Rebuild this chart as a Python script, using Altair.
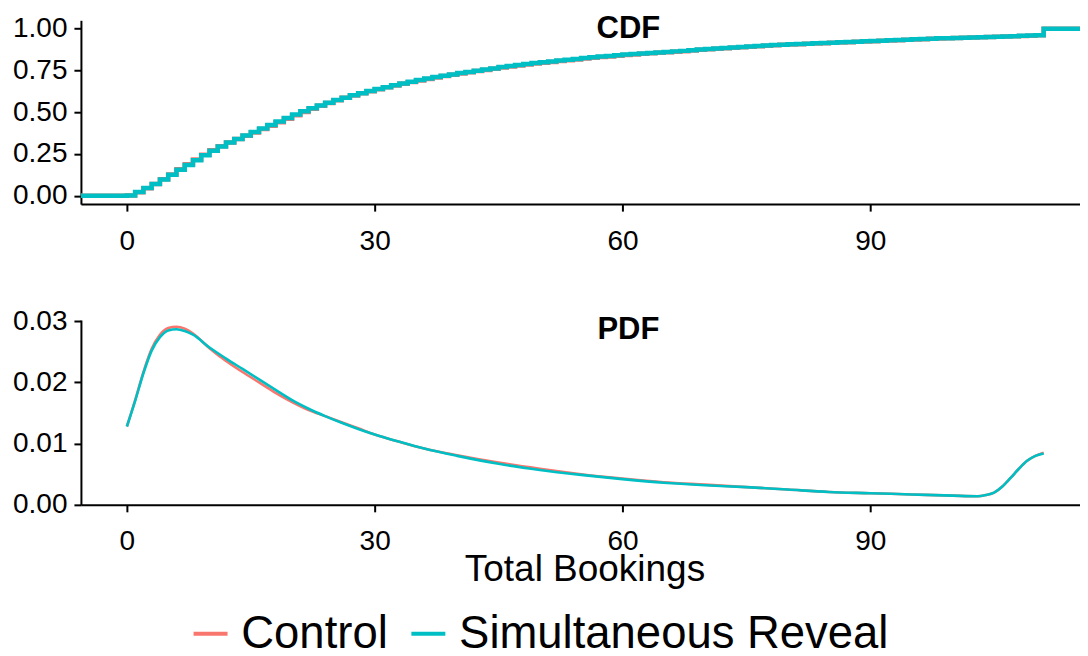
import altair as alt
import pandas as pd

SERIES = ["Control", "Simultaneous Reveal"]
COLORS = ["#F8766D", "#00BFC4"]

# ECDF (step function) of total bookings, one value per integer
BOOKINGS = list(range(0, 112))
CDF_CONTROL = [
    0.002, 0.021, 0.045, 0.071, 0.099, 0.128, 0.158, 0.188, 0.217, 0.245,
    0.272, 0.296, 0.318, 0.339, 0.359, 0.379, 0.399, 0.419, 0.440, 0.461,
    0.482, 0.501, 0.520, 0.538, 0.555, 0.571, 0.586, 0.600, 0.613, 0.626,
    0.638, 0.649, 0.660, 0.670, 0.680, 0.690, 0.699, 0.708, 0.716, 0.724,
    0.732, 0.739, 0.746, 0.753, 0.760, 0.767, 0.773, 0.779, 0.785, 0.791,
    0.796, 0.801, 0.806, 0.811, 0.816, 0.821, 0.826, 0.830, 0.834, 0.838,
    0.842, 0.846, 0.850, 0.853, 0.856, 0.859, 0.862, 0.865, 0.869, 0.873,
    0.876, 0.879, 0.882, 0.885, 0.888, 0.891, 0.894, 0.897, 0.900, 0.903,
    0.905, 0.907, 0.909, 0.911, 0.913, 0.915, 0.917, 0.919, 0.921, 0.923,
    0.925, 0.927, 0.929, 0.931, 0.933, 0.935, 0.937, 0.939, 0.941, 0.942,
    0.944, 0.945, 0.947, 0.948, 0.950, 0.951, 0.953, 0.955, 0.956, 0.958,
    0.960, 1.000,
]
CDF_SIMUL = [
    0.002, 0.022, 0.046, 0.071, 0.098, 0.126, 0.155, 0.184, 0.213, 0.242,
    0.270, 0.295, 0.318, 0.340, 0.361, 0.382, 0.403, 0.424, 0.445, 0.466,
    0.487, 0.505, 0.523, 0.540, 0.557, 0.573, 0.587, 0.601, 0.614, 0.627,
    0.639, 0.650, 0.661, 0.672, 0.682, 0.692, 0.701, 0.710, 0.718, 0.726,
    0.734, 0.741, 0.748, 0.755, 0.762, 0.770, 0.776, 0.782, 0.788, 0.794,
    0.799, 0.804, 0.809, 0.814, 0.819, 0.824, 0.829, 0.833, 0.837, 0.841,
    0.845, 0.849, 0.852, 0.855, 0.858, 0.861, 0.864, 0.867, 0.871, 0.875,
    0.878, 0.881, 0.884, 0.887, 0.890, 0.893, 0.896, 0.899, 0.902, 0.904,
    0.906, 0.908, 0.910, 0.912, 0.914, 0.916, 0.918, 0.920, 0.922, 0.924,
    0.926, 0.928, 0.930, 0.932, 0.934, 0.936, 0.938, 0.940, 0.942, 0.943,
    0.944, 0.946, 0.947, 0.949, 0.950, 0.952, 0.953, 0.955, 0.957, 0.959,
    0.961, 1.000,
]
# stand-ins for ggplot's -Inf / +Inf padding of the ECDF
ECDF_LOW_X, ECDF_LOW_F = -20, 0.0
ECDF_HIGH_X, ECDF_HIGH_F = 140, 1.0

# kernel density estimate (PDF)
PDF_X = [0, 1, 2, 3, 4, 5, 6, 7, 8,
         10, 12, 14, 16, 18, 20, 22, 24, 26, 28, 30,
         33, 36, 40, 45, 50, 55, 60, 65, 70, 75, 80, 85, 90, 95, 100,
         103, 104, 105, 106, 107, 108, 109, 110, 111]
PDF_CONTROL = [0.0128, 0.0171, 0.0217, 0.0255, 0.0278, 0.0289, 0.0291, 0.0288, 0.0280,
               0.0256, 0.0235, 0.0217, 0.0200, 0.0183, 0.0168, 0.0155, 0.0145, 0.0135, 0.0125, 0.0115,
               0.0103, 0.0092, 0.0081, 0.0069, 0.0059, 0.0050, 0.0043, 0.0037, 0.0033, 0.0029, 0.0025,
               0.0021, 0.0019, 0.0017, 0.0015,
               0.0014, 0.0016, 0.0020, 0.0030, 0.0044, 0.0059, 0.0072, 0.0080, 0.0085]
PDF_SIMUL = [0.0128, 0.0170, 0.0215, 0.0252, 0.0274, 0.0285, 0.0287, 0.0284, 0.0278,
             0.0257, 0.0239, 0.0222, 0.0205, 0.0188, 0.0171, 0.0157, 0.0145, 0.0134, 0.0124, 0.0115,
             0.0103, 0.0092, 0.0080, 0.0067, 0.0057, 0.0049, 0.0042, 0.0036, 0.0032, 0.0029, 0.0025,
             0.0021, 0.0019, 0.0017, 0.0015,
             0.0014, 0.0016, 0.0020, 0.0030, 0.0044, 0.0059, 0.0072, 0.0080, 0.0084]

X_TICKS = [0, 30, 60, 90]
CDF_TICKS = [0, 0.25, 0.5, 0.75, 1.0]
PDF_TICKS = [0, 0.01, 0.02, 0.03]

rows = []
for name, vals in ((SERIES[0], CDF_CONTROL), (SERIES[1], CDF_SIMUL)):
    rows.append({"series": name, "x": ECDF_LOW_X, "F": ECDF_LOW_F})
    for b, v in zip(BOOKINGS, vals):
        rows.append({"series": name, "x": b, "F": v})
    rows.append({"series": name, "x": ECDF_HIGH_X, "F": ECDF_HIGH_F})
cdf_df = pd.DataFrame(rows)

prow = []
for name, vals in ((SERIES[0], PDF_CONTROL), (SERIES[1], PDF_SIMUL)):
    for b, v in zip(PDF_X, vals):
        prow.append({"series": name, "x": b, "d": v})
pdf_df = pd.DataFrame(prow)

FONT = "Liberation Sans"
W = 1000
x_scale = alt.Scale(domain=[-5.565, 115.4], nice=False, zero=False)

color = alt.Color(
    "series:N",
    scale=alt.Scale(domain=SERIES, range=COLORS),
    legend=alt.Legend(
        title=None, orient="none", direction="horizontal",
        legendX=107, legendY=591,
        symbolType="stroke", symbolStrokeWidth=4, symbolSize=1156,
        labelFontSize=45.5, labelFont=FONT, labelColor="black", labelLimit=0,
        labelOffset=8, columnPadding=14, padding=0,
    ),
)

def xaxis(title=None):
    kw = dict(values=X_TICKS, labelFontSize=28, labelPadding=16, tickSize=7)
    if title:
        kw.update(title=title, titleFontSize=37, titleFont=FONT, titleFontWeight="normal",
                  titleColor="black", titleX=504, titleY=65, titleBaseline="middle",
                  titleAlign="center")
    return alt.Axis(**kw)

cdf_line = alt.Chart(cdf_df).mark_line(
    interpolate="step-after", strokeWidth=4.5, clip=True
).encode(
    x=alt.X("x:Q", scale=x_scale, axis=xaxis(), title=None),
    y=alt.Y("F:Q", scale=alt.Scale(domain=[-0.05, 1.05], nice=False, zero=False),
            axis=alt.Axis(values=CDF_TICKS, format=".2f"), title=None),
    color=color,
)
cdf_title = alt.Chart(pd.DataFrame({"t": ["CDF"]})).mark_text(
    font=FONT, fontSize=31, fontWeight="bold", color="black"
).encode(x=alt.value(548), y=alt.value(9), text="t:N")
top = alt.layer(cdf_line, cdf_title).properties(width=W, height=184)

pdf_line = alt.Chart(pdf_df).mark_line(
    interpolate="monotone", strokeWidth=2.6, clip=True
).encode(
    x=alt.X("x:Q", scale=x_scale, axis=xaxis("Total Bookings"), title="Total Bookings"),
    y=alt.Y("d:Q", scale=alt.Scale(domain=[0, 0.0302], nice=False, zero=False),
            axis=alt.Axis(values=PDF_TICKS, format=".2f"), title=None),
    color=color,
)
pdf_title = alt.Chart(pd.DataFrame({"t": ["PDF"]})).mark_text(
    font=FONT, fontSize=31, fontWeight="bold", color="black"
).encode(x=alt.value(548), y=alt.value(10), text="t:N")
bottom = alt.layer(pdf_line, pdf_title).properties(width=W, height=185)

chart = alt.vconcat(top, bottom, spacing=52).properties(
    padding={"left": 4, "top": 5, "right": 0, "bottom": 0}
).configure_view(stroke=None).configure_axis(
    grid=False, domainColor="black", domainWidth=2, tickColor="black", tickWidth=2,
    tickSize=7, labelFont=FONT, labelFontSize=28, labelColor="black", labelPadding=7,
)

chart.save("out.html", embed_options={"renderer": "svg", "actions": False})
